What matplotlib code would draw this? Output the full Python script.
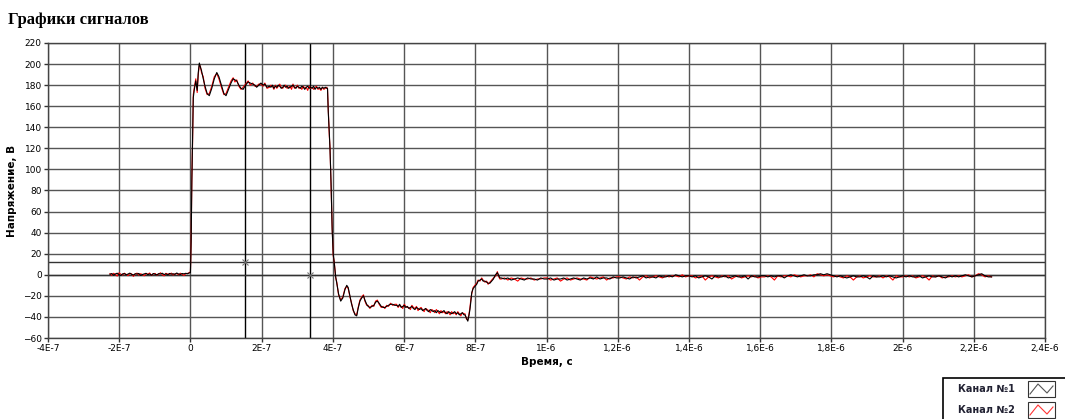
import numpy as np
import matplotlib
matplotlib.use("Agg")
import matplotlib.pyplot as plt
from matplotlib.patches import Rectangle

# --- data (time in microseconds, voltage in volts) ---
base_span = (-0.226, -0.003)
ch1_base = [0.5, 1.2, -0.3, 0.8, 1.5, 0.2, -0.6, 0.9, 1.1, 0.0, 0.7, 1.6, 0.4, -0.2, 1.0,
            0.6, 1.3, -0.5, 0.3, 0.9, 1.4, 0.1, 0.8, -0.4, 1.2, 0.5, 0.0, 1.1, 0.7, 1.5,
            0.2, 0.9, -0.1, 1.3, 0.6, 1.0, 0.4, 1.7, 0.8, 0.3, 1.2, 0.9, 1.4, 1.0, 1.8]
ch2_base = [1.0, -0.5, 1.4, 0.3, -1.2, 1.8, 0.6, -0.2, 1.5, 0.4, -0.8, 1.1, 0.9, -1.5, 0.7,
            1.6, -0.3, 1.0, 0.2, -0.9, 1.2, 0.5, 1.7, -0.6, 0.8, 1.3, -0.4, 0.6, 1.9, 0.1,
            -1.0, 1.4, 0.7, 0.3, 1.6, -0.2, 0.9, 1.2, 0.0, 1.5, 0.6, -0.7, 1.1, 1.3, 2.0]

rise_t = [0.000, 0.002, 0.004, 0.006, 0.008, 0.011, 0.015, 0.019, 0.022, 0.025, 0.028,
          0.031, 0.036, 0.041, 0.047, 0.053, 0.060, 0.067, 0.074, 0.080, 0.087, 0.094,
          0.100, 0.107, 0.114, 0.120, 0.125, 0.130, 0.136, 0.142, 0.148, 0.155, 0.162,
          0.168, 0.175, 0.181, 0.186, 0.192, 0.198, 0.204, 0.209, 0.215]
ch1_rise = [2, 31, 89, 128, 168, 176, 184, 175, 192, 201, 197, 194, 186, 179, 172, 170,
            177, 186, 192, 188, 180, 172, 170, 176, 182, 186, 185, 184, 180, 177, 176,
            180, 183, 182, 181, 180, 178, 180, 182, 180, 181, 178]
ch2_rise = [3, 33, 92, 125, 171, 178, 186, 173, 190, 199, 198, 192, 188, 177, 171, 172,
            179, 188, 191, 186, 178, 171, 172, 178, 184, 187, 183, 185, 179, 176, 178,
            181, 184, 180, 182, 179, 179, 181, 181, 179, 182, 177]

plat_span = (0.222, 0.383)
ch1_plat = [179, 178, 180, 177, 179, 178, 180, 179, 177, 178, 180, 178, 179, 177, 178,
            179, 180, 178, 177, 179, 178, 177, 179, 178, 176, 178, 179, 177, 178, 177,
            179, 176, 178, 177, 178, 176, 178, 177, 178, 177]
ch2_plat = [178, 180, 179, 176, 180, 177, 179, 181, 178, 177, 179, 180, 177, 178, 179,
            176, 181, 177, 178, 180, 177, 178, 176, 179, 177, 178, 175, 179, 177, 178,
            176, 178, 179, 176, 177, 175, 178, 176, 177, 178]

fall_t = [0.385, 0.387, 0.390, 0.392, 0.395, 0.398, 0.401, 0.404, 0.408, 0.411, 0.416,
          0.422, 0.428, 0.434, 0.439, 0.443, 0.448, 0.452, 0.457, 0.462, 0.467, 0.471,
          0.476, 0.481, 0.486, 0.490, 0.495, 0.499, 0.504, 0.510, 0.515, 0.520, 0.525,
          0.530, 0.536, 0.541, 0.546, 0.551, 0.556, 0.562, 0.568, 0.574]
ch1_fall = [177, 155, 135, 119, 87, 43, 20, 11, -2, -8, -18, -25, -22, -14, -10, -12,
            -20, -27, -33, -38, -39, -32, -25, -22, -20, -24, -28, -30, -31, -30, -29,
            -26, -25, -27, -30, -31, -31, -30, -29, -28, -28, -29]
ch2_fall = [176, 158, 132, 121, 84, 46, 18, 12, -3, -7, -19, -24, -21, -13, -11, -13,
            -21, -26, -34, -37, -38, -31, -24, -21, -19, -25, -29, -29, -32, -29, -30,
            -25, -24, -28, -31, -30, -32, -29, -30, -27, -29, -28]

neg_span = (0.579, 0.768)
ch1_neg = [-29, -30, -28, -31, -30, -29, -31, -30, -32, -31, -30, -32, -33, -31, -32,
           -33, -32, -34, -33, -32, -34, -35, -33, -34, -35, -34, -36, -34, -35, -36,
           -35, -34, -36, -37, -35, -36, -37, -36, -35, -37, -36, -38, -37, -36, -38]
ch2_neg = [-28, -31, -29, -30, -32, -28, -30, -31, -31, -33, -29, -31, -32, -30, -34,
           -32, -31, -33, -35, -32, -33, -34, -36, -33, -34, -36, -33, -35, -37, -34,
           -36, -35, -37, -35, -36, -38, -35, -37, -36, -38, -35, -37, -39, -36, -37]

back_t = [0.771, 0.775, 0.779, 0.782, 0.785, 0.788, 0.790, 0.794, 0.799, 0.804, 0.808,
          0.813, 0.818, 0.822, 0.827, 0.832, 0.836, 0.841, 0.846, 0.851, 0.855, 0.859,
          0.862, 0.866, 0.869]
ch1_back = [-38, -41, -44, -39, -33, -24, -17, -13, -11, -9, -6, -5, -4, -6, -6, -7, -8,
            -8, -6, -4, -1, 1, 2, -1, -3]
ch2_back = [-37, -42, -43, -38, -31, -22, -18, -12, -10, -8, -5, -6, -3, -5, -7, -6, -9,
            -7, -5, -3, -2, 0, 3, -2, -4]

tail_span = (0.873, 2.25)
ch1_tail = [-3, -4, -3, -5, -4, -3, -4, -5, -3, -4, -4, -5, -3, -4,
            -4, -3, -5, -4, -4, -3, -5, -4, -3, -4, -5, -3, -4, -3, -4, -2, -4, -3, -3, -4, -2, -3,
            -3, -2, -3, -4, -2, -3, -2, -1, -3, -2, -2, -3, -1, -2, -2, -1, -2, 0, -1, -2, -1, -1,
            -2, -1, -3, -2, -1, -2, -4, -1, -2, -2, -1, -3, -2, -1, -2, -2, -1, -4, -1, -2, -2, -1,
            -1, -2, -1, -2, -1, -1, -3, -1, 0, -1, -2, -1, 0, -1, -1, 0, 0, 1, 0, 1, 0, -1,
            -2, -1, -2, -3, -2, -1, -2, -2, -1, -2, -4, -1, -2, -2, -1, -2, -1, -2, -3, -2, -1, -2,
            -1, -2, -2, -1, -3, -2, -1, -2, -2, -1, -2, -3, -1, -2, -1, -2, -1, 0, -1, -2, -1, 0,
            1, -1, -2, -2]
ch2_tail = [-4, -3, -5, -3, -4, -6, -3, -4, -4, -3, -5, -4, -4, -3,
            -3, -5, -4, -3, -6, -4, -3, -5, -4, -3, -4, -4, -5, -2, -3, -4, -3, -2, -5, -3, -3, -2,
            -2, -3, -4, -2, -3, -2, -5, -2, -1, -3, -2, -1, -2, -3, -1, -2, -1, -1, -2, 0, -2, -1,
            -1, -3, -2, -1, -5, -2, -1, -2, -3, -1, -2, -1, -4, -2, -1, -3, -2, -1, -2, -1, -3, -2,
            -2, -1, -2, -5, -1, -2, -1, -1, -2, 0, -1, -2, -1, -1, 0, -2, 1, 0, -1, 0, -1, -2,
            -1, -2, -3, -1, -2, -5, -2, -1, -3, -2, -1, -2, -2, -1, -3, -1, -2, -5, -1, -2, -2, -1,
            -2, -1, -3, -2, -1, -2, -5, -1, -2, -1, -3, -2, -2, -1, -2, -1, -2, -1, 0, -2, -1, 1,
            0, -2, -1, -2]

x_ticks = [-0.4, -0.2, 0.0, 0.2, 0.4, 0.6, 0.8, 1.0, 1.2, 1.4, 1.6, 1.8, 2.0, 2.2, 2.4]
x_labels = ["-4E-7", "-2E-7", "0", "2E-7", "4E-7", "6E-7", "8E-7", "1E-6", "1,2E-6",
            "1,4E-6", "1,6E-6", "1,8E-6", "2E-6", "2,2E-6", "2,4E-6"]
y_ticks = list(range(-60, 221, 20))

cursor_t = [0.153, 0.336]
cursor_v = [12, 0]


def build(base, rise, plat, fall, neg, back, tail):
    t = np.concatenate([np.linspace(*base_span, len(base)), rise_t,
                        np.linspace(*plat_span, len(plat)), fall_t,
                        np.linspace(*neg_span, len(neg)), back_t,
                        np.linspace(*tail_span, len(tail))])
    v = np.concatenate([base, rise, plat, fall, neg, back, tail])
    return t * 1e-6, v


t1, v1 = build(ch1_base, ch1_rise, ch1_plat, ch1_fall, ch1_neg, ch1_back, ch1_tail)
t2, v2 = build(ch2_base, ch2_rise, ch2_plat, ch2_fall, ch2_neg, ch2_back, ch2_tail)

fig = plt.figure(figsize=(10.65, 4.19), dpi=100)
ax = fig.add_axes([48 / 1065, 81 / 419, 997 / 1065, 295 / 419])

grid_c = "#555555"
for xt in x_ticks:
    ax.axvline(xt * 1e-6, color=grid_c, lw=1, zorder=1)
for yt in y_ticks:
    ax.axhline(yt, color=grid_c, lw=1, zorder=1)

# cursors
for ct, cv in zip(cursor_t, cursor_v):
    ax.axvline(ct * 1e-6, color="black", lw=1, zorder=2)
    ax.axhline(cv, color="#333333", lw=1, zorder=2)
    ax.plot(ct * 1e-6, cv, marker="x", ms=4, mew=0.8, color="#777777", zorder=5)

ax.plot(t2, v2, color="#ff0000", lw=0.8, zorder=3)
ax.plot(t1, v1, color="black", lw=0.8, zorder=4)

ax.set_xlim(-0.4e-6, 2.4e-6)
ax.set_ylim(-60, 220)
ax.set_xticks([x * 1e-6 for x in x_ticks])
ax.set_xticklabels(x_labels)
ax.set_yticks(y_ticks)
ax.tick_params(labelsize=6.5, length=3, width=1, color="#333333", pad=1.5)
for s in ax.spines.values():
    s.set_color("#444444")
    s.set_linewidth(1)

ax.set_xlabel("Время, с", fontsize=7.5, fontweight="bold", labelpad=3)
ax.set_ylabel("Напряжение, В", fontsize=7.5, fontweight="bold", labelpad=4)

fig.text(8 / 1065, 1 - 20 / 419, "Графики сигналов", fontsize=12, fontweight="bold",
         family="Liberation Serif", va="center", ha="left")

# legend box
fig.add_artist(Rectangle((943 / 1065, -0.05), 0.2, 0.05 + 1 - 378 / 419,
                         transform=fig.transFigure, fill=False, ec="black", lw=1.2))
legend_names = ["Канал №1", "Канал №2"]
legend_cols = ["#555555", "#ff3333"]
for i, (name, col) in enumerate(zip(legend_names, legend_cols)):
    yc = 389 + i * 21
    fig.text(958 / 1065, 1 - yc / 419, name, fontsize=7, fontweight="bold",
             va="center", ha="left", color="#222233")
    y0 = 1 - (yc + 8) / 419
    fig.add_artist(Rectangle((1028 / 1065, y0), 27 / 1065, 16 / 419,
                             transform=fig.transFigure, fill=False, ec="#333333", lw=0.8))
    sx = [1030, 1038, 1047, 1053]
    sy = [yc + 5, yc - 5, yc + 4, yc - 3]
    fig.add_artist(plt.Line2D([x / 1065 for x in sx], [1 - y / 419 for y in sy],
                              transform=fig.transFigure, color=col, lw=0.8))

fig.savefig("out.png", dpi=100)
